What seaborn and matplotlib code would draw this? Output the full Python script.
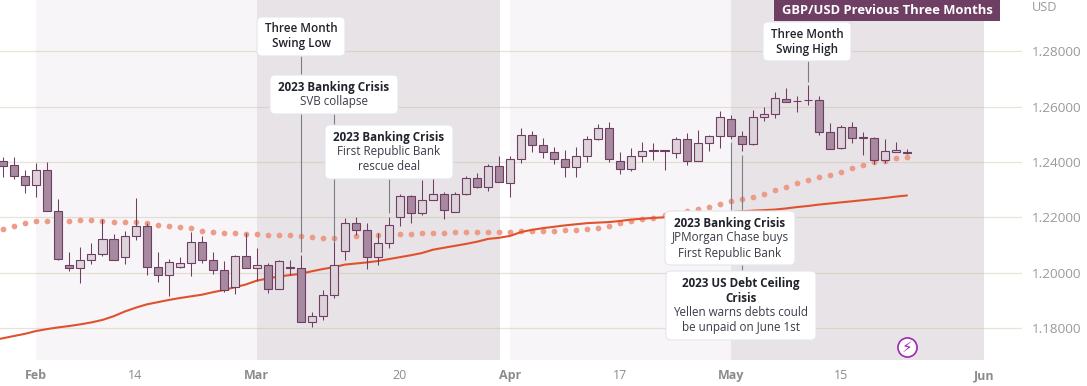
import numpy as np
import pandas as pd
import matplotlib
matplotlib.use('Agg')
import matplotlib.pyplot as plt
from matplotlib.patches import FancyBboxPatch, Rectangle
from matplotlib.transforms import Affine2D
import seaborn as sns

# daily GBP/USD candles, late Jan to 23 May 2023
opens = [1.2405,1.2390,1.2350,1.2318,1.2372,1.2224,1.2028,1.2017,1.2046,1.2068,
         1.2122,1.2057,1.2133,1.2169,1.2021,1.1992,1.2021,1.2035,1.2111,1.2046,
         1.2010,1.1948,1.2061,1.2017,1.2027,1.1941,1.2019,1.2017,1.1822,1.1843,
         1.1919,1.2078,1.2179,1.2154,1.2056,1.2107,1.2201,1.2276,1.2215,1.2262,
         1.2284,1.2219,1.2284,1.2341,1.2309,1.2385,1.2323,1.2412,1.2499,1.2463,
         1.2437,1.2412,1.2383,1.2423,1.2484,1.2524,1.2405,1.2376,1.2423,1.2443,
         1.2443,1.2434,1.2484,1.2405,1.2470,1.2495,1.2557,1.2495,1.2466,1.2564,
         1.2575,1.2629,1.2621,1.2625,1.2625,1.2510,1.2452,1.2528,1.2489,1.2488,
         1.2408,1.2437,1.2435]
highs = [1.2419,1.2419,1.2372,1.2395,1.2401,1.2267,1.2075,1.2093,1.2108,1.2195,
         1.2140,1.2151,1.2271,1.2180,1.2075,1.2050,1.2057,1.2148,1.2133,1.2075,
         1.2042,1.2064,1.2144,1.2090,1.2035,1.2045,1.2045,1.2063,1.1858,1.1937,
         1.2110,1.2197,1.2201,1.2179,1.2143,1.2201,1.2284,1.2280,1.2335,1.2341,
         1.2291,1.2291,1.2349,1.2359,1.2392,1.2421,1.2421,1.2524,1.2513,1.2488,
         1.2455,1.2445,1.2455,1.2495,1.2539,1.2546,1.2437,1.2452,1.2473,1.2470,
         1.2445,1.2492,1.2506,1.2517,1.2499,1.2586,1.2571,1.2513,1.2589,1.2600,
         1.2654,1.2669,1.2640,1.2680,1.2640,1.2542,1.2535,1.2546,1.2510,1.2492,
         1.2484,1.2473,1.2448]
lows = [1.2346,1.2338,1.2288,1.2273,1.2224,1.2045,1.2005,1.1961,1.2030,1.2059,
        1.2046,1.2030,1.2117,1.1992,1.1965,1.1914,1.2017,1.1988,1.2034,1.1995,
        1.1930,1.1923,1.2017,1.1969,1.1926,1.1941,1.1991,1.1822,1.1802,1.1828,
        1.1908,1.2047,1.2136,1.2013,1.2027,1.2090,1.2167,1.2179,1.2208,1.2262,
        1.2193,1.2219,1.2280,1.2305,1.2294,1.2327,1.2275,1.2398,1.2436,1.2414,
        1.2393,1.2346,1.2347,1.2400,1.2481,1.2400,1.2358,1.2367,1.2400,1.2407,
        1.2371,1.2414,1.2390,1.2405,1.2440,1.2451,1.2484,1.2441,1.2463,1.2549,
        1.2560,1.2618,1.2582,1.2606,1.2499,1.2448,1.2448,1.2469,1.2426,1.2394,
        1.2398,1.2437,1.2430]
closes = [1.2386,1.2350,1.2318,1.2372,1.2224,1.2050,1.2017,1.2046,1.2068,1.2122,
          1.2046,1.2133,1.2169,1.2021,1.1992,1.2039,1.2035,1.2111,1.2046,1.2010,
          1.1937,1.2061,1.2017,1.2028,1.1941,1.2042,1.2017,1.1822,1.1843,1.1919,
          1.2027,1.2179,1.2154,1.2056,1.2107,1.2172,1.2276,1.2215,1.2262,1.2284,
          1.2226,1.2284,1.2341,1.2309,1.2385,1.2327,1.2410,1.2499,1.2463,1.2437,
          1.2412,1.2383,1.2423,1.2484,1.2524,1.2412,1.2376,1.2423,1.2441,1.2441,
          1.2441,1.2484,1.2405,1.2470,1.2495,1.2564,1.2495,1.2466,1.2564,1.2575,
          1.2633,1.2618,1.2619,1.2623,1.2510,1.2448,1.2528,1.2488,1.2488,1.2408,
          1.2441,1.2445,1.2434]
ma_dots = [1.2158,1.2169,1.2180,1.2187,1.2187,1.2187,1.2187,1.2191,1.2191,1.2187,
           1.2184,1.2184,1.2184,1.2180,1.2173,1.2169,1.2166,1.2162,1.2151,1.2148,
           1.2144,1.2144,1.2140,1.2140,1.2136,1.2136,1.2136,1.2132,1.2128,1.2125,
           1.2125,1.2125,1.2132,1.2136,1.2136,1.2139,1.2139,1.2139,1.2143,1.2143,
           1.2143,1.2146,1.2146,1.2146,1.2146,1.2146,1.2148,1.2152,1.2152,1.2152,
           1.2152,1.2155,1.2155,1.2159,1.2163,1.2170,1.2178,1.2188,1.2195,1.2199,
           1.2210,1.2217,1.2224,1.2231,1.2239,1.2249,1.2260,1.2267,1.2275,1.2285,
           1.2300,1.2311,1.2325,1.2336,1.2347,1.2354,1.2365,1.2379,1.2390,1.2401,
           1.2405,1.2416,1.2419]
# first value belongs to the session just off the left edge
ma_line = [1.1755,1.1763,1.1771,1.1779,1.1789,1.1796,1.1802,1.1807,1.1813,1.1820,1.1829,
           1.1842,1.1859,1.1873,1.1885,1.1893,1.1901,1.1908,1.1914,1.1920,1.1929,
           1.1937,1.1947,1.1957,1.1971,1.1979,1.1986,1.1991,1.1996,1.2005,1.2013,
           1.2020,1.2029,1.2033,1.2037,1.2042,1.2049,1.2056,1.2063,1.2071,1.2083,
           1.2090,1.2097,1.2104,1.2112,1.2122,1.2126,1.2133,1.2147,1.2155,1.2161,
           1.2166,1.2171,1.2175,1.2179,1.2181,1.2183,1.2187,1.2192,1.2195,1.2198,
           1.2200,1.2204,1.2207,1.2210,1.2213,1.2216,1.2219,1.2222,1.2224,1.2226,
           1.2228,1.2232,1.2237,1.2241,1.2246,1.2250,1.2254,1.2258,1.2262,1.2266,
           1.2270,1.2275,1.2279]

date_ticks = [3,12,23,36,46,56,66,76,89]
date_labels = ['Feb','14','Mar','20','Apr','17','May','15','Jun']
month_labels = ['Feb','Mar','Apr','May','Jun']
price_ticks = [1.18,1.20,1.22,1.24,1.26,1.28]

note_idx = [27,30,35,66,67,73]
note_top = [1.2783,1.2575,1.2340,1.2474,1.2427,1.2766]
note_bottom = [1.2076,1.2112,1.2217,1.2228,1.2008,1.2690]

PURPLE = '#6E3F63'
DARK_FILL = '#A78A9F'
LIGHT_FILL = '#DDD3DA'
BAND_LIGHT = '#F7F5F7'
BAND_DARK = '#E8E3E7'
GREY = '#8C8C8C'
FONT = 'Open Sans'

sns.set_theme(style='white')
plt.rcParams['font.family'] = [FONT, 'DejaVu Sans']

W, H = 1087, 386
fig = plt.figure(figsize=(W/100, H/100), dpi=100, facecolor='white')
ax = fig.add_axes([0, (H-360)/H, 1022/W, 360/H])
# top-left pixel coordinates for the boxes and labels
px = Affine2D().scale(1/W, -1/H).translate(0, 1) + fig.transFigure

df = pd.DataFrame({'session': np.arange(len(opens)), 'open': opens, 'high': highs, 'low': lows, 'close': closes})
df['bottom'] = df[['open','close']].min(axis=1)
df['height'] = (df['open']-df['close']).abs()
up = df[df['close'] > df['open']]
down = df[df['close'] <= df['open']]

# month bands
ax.axvspan(3, 23, color=BAND_LIGHT, lw=0, zorder=0)
ax.axvspan(23, 45.07, color=BAND_DARK, lw=0, zorder=0)
ax.axvspan(46, 66, color=BAND_LIGHT, lw=0, zorder=0)
ax.axvspan(66, 89, color=BAND_DARK, lw=0, zorder=0)
for p in price_ticks:
    ax.axhline(p, color='#C8BE9E', alpha=0.42, lw=0.9, zorder=1)

sns.lineplot(x=np.arange(-1, 83), y=ma_line, color='#E0522D', lw=1.5, ax=ax, zorder=2.5)
sns.scatterplot(x=df['session'], y=ma_dots, color='#EC9C89', s=17, linewidth=0, ax=ax, zorder=2)

wicks = pd.concat([df[['session','high']].rename(columns={'high':'price'}),
                   df[['session','low']].rename(columns={'low':'price'})])
sns.lineplot(data=wicks, x='session', y='price', units='session', estimator=None, color=PURPLE,
             lw=0.75, ax=ax, zorder=3, solid_capstyle='butt', legend=False)
sns.barplot(x=up['session'], y=up['height'].values, bottom=up['bottom'].values, native_scale=True, width=0.73,
            color=LIGHT_FILL, saturation=1, edgecolor=PURPLE, linewidth=0.8, errorbar=None, ax=ax, zorder=4)
sns.barplot(x=down['session'], y=down['height'].values, bottom=down['bottom'].values, native_scale=True, width=0.73,
            color=DARK_FILL, saturation=1, edgecolor=PURPLE, linewidth=0.8, errorbar=None, ax=ax, zorder=4)

ax.vlines(note_idx, note_bottom, note_top, color='#7B7D88', lw=0.8, zorder=5)

ax.set_xlim(-0.3, 92.44)
ax.set_ylim(1.1684, 1.2986)
ax.set_xlabel('')
ax.set_ylabel('')
ax.set_xticks(date_ticks)
ax.set_xticklabels(date_labels)
ax.set_yticks(price_ticks)
ax.set_yticklabels(['%.5f' % p for p in price_ticks])
ax.yaxis.tick_right()
ax.tick_params(axis='x', length=0, pad=6.5, labelsize=9, labelcolor=GREY)
ax.tick_params(axis='y', length=0, pad=7, labelsize=9.7, labelcolor='#9A9A9A')
for t in ax.get_xticklabels():
    if t.get_text() in month_labels:
        t.set_fontweight('bold')
sns.despine(ax=ax, left=True, bottom=True, top=True, right=True)
ax.patch.set_alpha(0)

def note(x0, x1, y0, y1, lines, z):
    box = FancyBboxPatch((x0, y0), x1-x0, y1-y0, boxstyle='round,pad=0,rounding_size=5', transform=px,
                         fc='white', ec='#E4E5EE', lw=0.8, zorder=z, clip_on=False)
    ax.add_patch(box)
    for y, text, weight in lines:
        ax.text((x0+x1)/2, y, text, transform=px, ha='center', va='center', fontsize=8.4,
                fontweight=weight, color='#20222C' if weight != 'normal' else '#3A3C48', zorder=z+0.1)

note(257, 345, 17, 56, [(29,'Three Month','semibold'),(44,'Swing Low','semibold')], 6)
note(270, 398, 75, 114, [(87,'2023 Banking Crisis','bold'),(102,'SVB collapse','normal')], 6.2)
note(325, 453, 125, 179, [(137,'2023 Banking Crisis','bold'),(152,'First Republic Bank','normal'),(167,'rescue deal','normal')], 6.4)
note(665, 795, 211, 265, [(223,'2023 Banking Crisis','bold'),(238,'JPMorgan Chase buys','normal'),(253,'First Republic Bank','normal')], 6.6)
note(666, 816, 271, 340, [(283,'2023 US Debt Ceiling','bold'),(298,'Crisis','bold'),(313,'Yellen warns debts could','normal'),(328,'be unpaid on June 1st','normal')], 6.8)
note(763, 851, 22, 61, [(34,'Three Month','semibold'),(49,'Swing High','semibold')], 7)

ax.add_patch(Rectangle((774, 0), 226, 21, transform=px, fc=PURPLE, ec='none', zorder=8))
ax.text(887, 10.5, 'GBP/USD Previous Three Months', transform=px, ha='center', va='center',
        fontsize=9.35, fontweight='bold', color='white', zorder=9)
ax.text(1032, 7.5, 'USD', transform=px, ha='left', va='center', fontsize=9.2, color='#9A9A9A', clip_on=False)

# lightning badge
ax.scatter([906.7], [347.3], s=190, transform=px, fc='white', ec='#9C27B0', lw=1.2, zorder=8)
ax.text(906.7, 347.3, '\u26a1', transform=px, ha='center', va='center', fontsize=11, color='#9C27B0',
        family='DejaVu Sans', zorder=9)

fig.savefig('out.png', dpi=100)
